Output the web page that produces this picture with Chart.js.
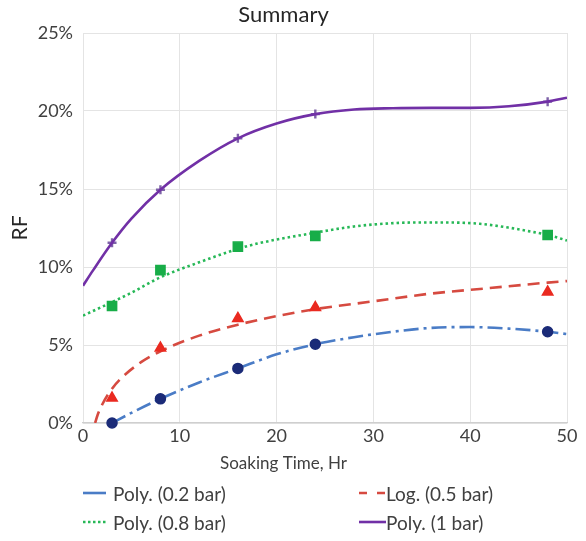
<!DOCTYPE html>
<html>
<head>
<meta charset="utf-8">
<title>Summary</title>
<script src="https://cdn.jsdelivr.net/npm/chart.js@4.4.1/dist/chart.umd.min.js"></script>
<style>
  html, body { margin: 0; padding: 0; background: #ffffff; }
  #wrap { position: relative; width: 586px; height: 541px; }
  #chart { position: absolute; left: 0; top: 0; }
  #legend { position: absolute; left: 0; top: 0; width: 586px; height: 541px; pointer-events: none;
            font-family: Lato, "Open Sans", sans-serif; color: #404040; }
  .lg-item { position: absolute; display: flex; align-items: center; height: 26px; white-space: nowrap; }
  .lg-item svg { display: block; flex: none; }
</style>
</head>
<body>
<div id="wrap">
  <canvas id="chart" width="586" height="541"></canvas>
  <div id="legend"></div>
</div>
<script>
// Measured samples, soaking time in hours and recovery factor in percent
const soakHours = [3, 8, 16, 24, 48];
const rf02 = [0.0, 1.55, 3.5, 5.05, 5.85];   // 0.2 bar
const rf05 = [1.6, 4.8, 6.7, 7.4, 8.4];      // 0.5 bar
const rf08 = [7.5, 9.8, 11.3, 12.0, 12.05];  // 0.8 bar
const rf10 = [11.55, 14.95, 18.25, 19.8, 20.6]; // 1 bar

// Trendline readings for each pressure
const trend02Hours = [3, 5, 8, 12, 16, 20, 24, 28, 32, 36, 40, 44, 48, 50];
const trend02 = [0.0, 0.65, 1.55, 2.6, 3.5, 4.4, 5.05, 5.5, 5.85, 6.1, 6.15, 6.05, 5.85, 5.7];

const trend05Hours = [1.25, 1.5, 2, 3, 4, 6, 8, 12, 16, 20, 24, 30, 36, 42, 48, 50];
const trend05 = [0.0, 0.5, 1.2, 2.2, 2.9, 3.9, 4.6, 5.6, 6.3, 6.85, 7.3, 7.8, 8.3, 8.65, 9.0, 9.1];

const trend08Hours = [0, 3, 5, 8, 12, 16, 18, 24, 28, 31, 34, 38, 41, 44, 46, 48, 50];
const trend08 = [6.88, 7.75, 8.35, 9.34, 10.3, 11.16, 11.5, 12.2, 12.6, 12.77, 12.85, 12.85, 12.77, 12.52, 12.3, 12.06, 11.7];

const trend10Hours = [0, 1, 3, 5, 8, 12, 16, 20, 24, 28, 32, 36, 40, 44, 48, 50];
const trend10 = [8.8, 9.75, 11.55, 13.1, 14.95, 16.8, 18.25, 19.2, 19.8, 20.1, 20.18, 20.2, 20.2, 20.3, 20.6, 20.85];

// Axis ticks
const yTicks = [0, 5, 10, 15, 20, 25];
const xTicks = [0, 10, 20, 30, 40, 50];

const trendLabels = ['Poly. (0.2 bar)', 'Log. (0.5 bar)', 'Poly. (0.8 bar)', 'Poly. (1 bar)'];

const toPoints = (xs, ys) => xs.map((x, i) => ({ x, y: ys[i] }));

const INK = '#404040';
const FONT = 'Lato, "Open Sans", sans-serif';

const markerSet = (label, ys, style, color, radius, order, width) => ({
  label, data: toPoints(soakHours, ys), showLine: false,
  pointStyle: style, pointRadius: radius, pointHoverRadius: radius,
  backgroundColor: color, borderColor: color, borderWidth: width,
  clip: false, order
});

const trendSet = (label, xs, ys, color, dash) => ({
  label, data: toPoints(xs, ys), showLine: true, pointRadius: 0, pointHoverRadius: 0,
  borderColor: color, backgroundColor: color, borderWidth: 2.6, borderDash: dash,
  borderCapStyle: 'butt', cubicInterpolationMode: 'monotone', fill: false, order: 1,
  isTrend: true
});

const datasets = [
  trendSet(trendLabels[0], trend02Hours, trend02, '#4a7cc6', [15, 5, 3, 5]),
  trendSet(trendLabels[1], trend05Hours, trend05, '#d64a40', [12, 7]),
  trendSet(trendLabels[2], trend08Hours, trend08, '#27b857', [2.5, 3]),
  trendSet(trendLabels[3], trend10Hours, trend10, '#7130a6', []),
  markerSet('0.2 bar', rf02, 'circle', '#1b2b78', 5, 0, 1.5),
  markerSet('0.5 bar', rf05, 'triangle', '#ea2a20', 6, 0, 1.5),
  markerSet('0.8 bar', rf08, 'rect', '#18ad48', 6.5, 0, 1.5),
  markerSet('1 bar', rf10, 'cross', '#7e62a8', 4.5, 2, 2.4)
];

const chart = new Chart(document.getElementById('chart'), {
  type: 'scatter',
  data: { datasets },
  options: {
    responsive: false,
    animation: false,
    events: [],
    layout: { padding: { left: 0, right: 19, top: 0, bottom: 62 } },
    plugins: {
      legend: { display: false },
      tooltip: { enabled: false },
      title: {
        display: true, text: 'Summary', color: '#262626',
        font: { family: FONT, size: 22, weight: 'normal', lineHeight: 1.2 },
        padding: { top: 2, bottom: 4.6 }
      },
      subtitle: {
        display: true, text: 'Soaking Time, Hr', position: 'bottom', weight: 1,
        color: INK, font: { family: FONT, size: 17, weight: 'normal', lineHeight: 1.2 },
        padding: { top: 0, bottom: 5.2 }
      }
    },
    scales: {
      x: {
        type: 'linear', min: 0, max: 50,
        afterBuildTicks: s => { s.ticks = xTicks.map(v => ({ value: v })); },
        afterFit: s => { s.height = 30.4; },
        ticks: { color: INK, padding: 2, font: { family: FONT, size: 18 } },
        grid: { color: '#e4e4e4', lineWidth: 1, drawTicks: false },
        border: { display: true, color: '#cfcfcf', width: 1.2 }
      },
      y: {
        type: 'linear', min: 0, max: 25,
        afterBuildTicks: s => { s.ticks = yTicks.map(v => ({ value: v })); },
        afterFit: s => { s.width = 83; },
        ticks: { color: INK, padding: 10, font: { family: FONT, size: 18 }, callback: v => v + '%' },
        grid: { color: '#e4e4e4', lineWidth: 1, drawTicks: false },
        border: { display: false },
        title: {
          display: true, text: 'RF', color: '#262626',
          font: { family: FONT, size: 21, weight: 'normal', lineHeight: 1.2 },
          padding: { top: 7.4, bottom: 0 }
        }
      }
    }
  }
});

// HTML legend built from the trendline datasets (two aligned columns)
const legendSlots = [
  { left: 83, top: 480, swatch: 23, gap: 7 },
  { left: 359, top: 480, swatch: 27, gap: 0 },
  { left: 83, top: 509, swatch: 23, gap: 7 },
  { left: 359, top: 509, swatch: 27, gap: 0 }
];
// legend glyph dashes (the 0.2 bar glyph shows as a solid stroke)
const legendDash = ['', '8 10', '2.5 2.5', ''];

const legendEl = document.getElementById('legend');
chart.data.datasets.filter(d => d.isTrend).forEach((d, i) => {
  const slot = legendSlots[i];
  const item = document.createElement('div');
  item.className = 'lg-item';
  item.style.left = slot.left + 'px';
  item.style.top = slot.top + 'px';
  item.innerHTML =
    '<svg width="' + slot.swatch + '" height="8"><line x1="0" y1="4" x2="' + slot.swatch +
    '" y2="4" stroke="' + d.borderColor + '" stroke-width="2.6"' +
    (legendDash[i] ? ' stroke-dasharray="' + legendDash[i] + '"' : '') + '/></svg>' +
    '<span style="margin-left:' + slot.gap + 'px;font-size:19px;">' + d.label + '</span>';
  legendEl.appendChild(item);
});
</script>
</body>
</html>
